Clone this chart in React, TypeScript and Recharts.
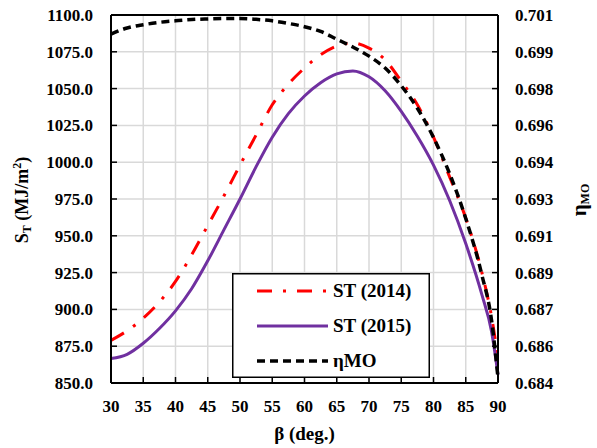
import React from "react";
import {
  LineChart,
  Line,
  XAxis,
  YAxis,
  CartesianGrid,
  Legend,
  ReferenceLine,
} from "recharts";

const betas = [30, 32.5, 35, 37.5, 40, 42.5, 45, 47.5, 50, 52.5, 55, 57.5, 60, 62.5, 65, 67.5, 70, 72.5, 75, 77.5, 80, 82.5, 85, 87.5, 89, 90];
const st2014 = [879, 885.5, 894, 905, 919, 937, 957, 977, 998, 1018.5, 1039, 1053, 1064, 1073, 1079, 1081, 1077.5, 1069.5, 1055, 1039, 1017, 990, 962, 925, 895, 867];
const st2015 = [866.6, 869.5, 877, 887, 899, 914, 933, 954, 975, 997, 1017, 1033, 1045, 1054, 1060, 1062, 1058, 1048.5, 1034.5, 1017.6, 998, 974, 944.7, 910, 885, 855.7];
const etaMO = [0.70012, 0.7004, 0.70055, 0.70066, 0.70073, 0.70079, 0.70082, 0.70084, 0.70084, 0.7008, 0.70073, 0.70061, 0.70046, 0.70024, 0.69988, 0.69952, 0.6991, 0.69855, 0.69773, 0.69669, 0.69534, 0.69367, 0.6916, 0.68899, 0.6869, 0.68423];

const xTicks = [30, 35, 40, 45, 50, 55, 60, 65, 70, 75, 80, 85, 90];
const leftTicks = [850, 875, 900, 925, 950, 975, 1000, 1025, 1050, 1075, 1100];
const rightTicks = [0.684, 0.6857, 0.6874, 0.6891, 0.6908, 0.6925, 0.6942, 0.6959, 0.6976, 0.6993, 0.701];
const rightLabels = ["0.684", "0.686", "0.687", "0.689", "0.691", "0.693", "0.694", "0.696", "0.698", "0.699", "0.701"];

const data = betas.map((b, i) => ({ beta: b, st2014: st2014[i], st2015: st2015[i], eta: etaMO[i] }));

const FONT = "Liberation Serif";
const tickStyle = { fontFamily: FONT, fontWeight: 700, fontSize: 17, fill: "#000", style: { fontFamily: FONT } };

const legendItems = [
  { label: "ST (2014)", color: "#FF0000", dash: "15 11 3 11", width: 3 },
  { label: "ST (2015)", color: "#7030A0", dash: undefined, width: 3 },
  { label: "\u03b7MO", color: "#000000", dash: "8 5", width: 3.5 },
];

function LegendBox() {
  return (
    <svg width={198} height={105} style={{ display: "block" }}>
      <rect x={0.75} y={0.75} width={196.5} height={103.5} fill="#fff" stroke="#000" strokeWidth={1.5} />
      {legendItems.map((it, i) => {
        const y = 18 + i * 35;
        return (
          <g key={it.label}>
            <line x1={25} x2={96} y1={y} y2={y} stroke={it.color} strokeWidth={it.width} strokeDasharray={it.dash} />
            <text x={101} y={y + 6} style={{ fontFamily: FONT }} fontWeight={700} fontSize={19} fill="#000">
              {it.label}
            </text>
          </g>
        );
      })}
    </svg>
  );
}

function LeftTitle() {
  return (
    <text
      x={24}
      y={200}
      transform="rotate(-90, 24, 200)"
      textAnchor="middle"
      dominantBaseline="middle"
      style={{ fontFamily: FONT }}
      fontWeight={700}
      fontSize={18}
      fill="#000"
    >
      S<tspan fontSize={12} dy={4}>T</tspan>
      <tspan dy={-4}> (MJ/m</tspan>
      <tspan fontSize={12} dy={-6}>2</tspan>
      <tspan dy={6}>)</tspan>
    </text>
  );
}

function RightTitle() {
  return (
    <text
      x={581}
      y={200}
      transform="rotate(-90, 581, 200)"
      textAnchor="middle"
      dominantBaseline="middle"
      style={{ fontFamily: FONT }}
      fontWeight={700}
      fontSize={21}
      fill="#000"
    >
      {"\u03b7"}
      <tspan fontSize={12} dy={5}>MO</tspan>
    </text>
  );
}

export default function App() {
  return (
    <div style={{ position: "absolute", left: 0, top: 0, background: "#fff", fontFamily: FONT }}>
      <LineChart width={597} height={448} data={data} margin={{ top: 15, right: 0, bottom: 0, left: 0 }} style={{ fontFamily: FONT }}>
        <CartesianGrid yAxisId="left" stroke="#D9D9D9" strokeWidth={1.5} />
        <XAxis
          dataKey="beta"
          type="number"
          domain={[30, 90]}
          ticks={xTicks}
          height={65}
          tick={tickStyle}
          tickSize={-6}
          tickMargin={23}
          axisLine={{ stroke: "#000", strokeWidth: 2 }}
          tickLine={{ stroke: "#000", strokeWidth: 1.5 }}
          label={{
            value: "\u03b2 (deg.)",
            position: "insideBottom",
            offset: 8,
            style: { fontFamily: FONT, fontWeight: 700, fontSize: 19, fill: "#000" },
          }}
        />
        <YAxis
          yAxisId="left"
          domain={[850, 1100]}
          ticks={leftTicks}
          width={111}
          tick={tickStyle}
          tickSize={-6}
          tickMargin={24}
          tickFormatter={(v: number) => v.toFixed(1)}
          axisLine={{ stroke: "#000", strokeWidth: 2 }}
          tickLine={{ stroke: "#000", strokeWidth: 1.5 }}
          label={{ content: () => <LeftTitle /> }}
        />
        <YAxis
          yAxisId="right"
          orientation="right"
          domain={[0.684, 0.701]}
          ticks={rightTicks}
          width={99}
          tick={tickStyle}
          tickSize={-6}
          tickMargin={23}
          tickFormatter={(_v: number, i: number) => rightLabels[i]}
          axisLine={{ stroke: "#000", strokeWidth: 2 }}
          tickLine={{ stroke: "#000", strokeWidth: 1.5 }}
          label={{ content: () => <RightTitle /> }}
        />
        <ReferenceLine yAxisId="left" y={1100} stroke="#000" strokeWidth={2} />
        <Line
          yAxisId="left"
          type="monotone"
          dataKey="st2014"
          name="ST (2014)"
          stroke="#FF0000"
          strokeWidth={3}
          strokeDasharray="15 11 3 11"
          dot={false}
          isAnimationActive={false}
        />
        <Line
          yAxisId="left"
          type="monotone"
          dataKey="st2015"
          name="ST (2015)"
          stroke="#7030A0"
          strokeWidth={3}
          dot={false}
          isAnimationActive={false}
        />
        <Line
          yAxisId="right"
          type="monotone"
          dataKey="eta"
          name={"\u03b7MO"}
          stroke="#000"
          strokeWidth={3.5}
          strokeDasharray="8 5"
          dot={false}
          isAnimationActive={false}
        />
        <Legend
          layout="vertical"
          align="center"
          verticalAlign="middle"
          wrapperStyle={{ left: 232, top: 273, width: 198, height: 105 }}
          content={() => <LegendBox />}
        />
      </LineChart>
    </div>
  );
}
